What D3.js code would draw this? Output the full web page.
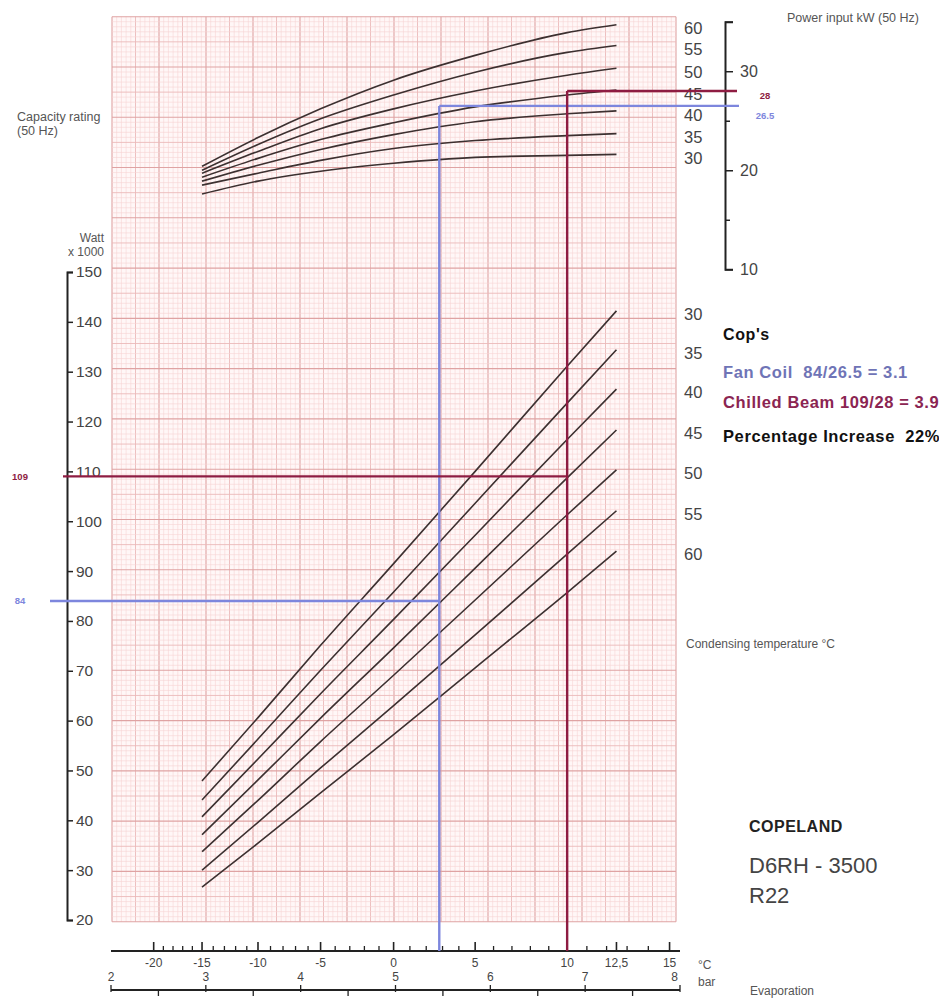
<!DOCTYPE html>
<html>
<head>
<meta charset="utf-8">
<script src="https://cdn.jsdelivr.net/npm/d3@7"></script>
<style>
	body { margin: 0; background: #fff; }
	svg { display: block; }
	text { font-family: "Liberation Sans", Arial, sans-serif; white-space: pre; }
</style>
</head>
<body>
<svg id="chart"></svg>
<script>

// condensing temperatures (one curve per value)
var condTemps = [30, 35, 40, 45, 50, 55, 60];

// evaporation temperatures where the curves were read
var evapPoints = [-15, -10, -5, 0, 5, 10, 12.5];

// capacity rating, Watt x 1000
var capacity30 = [47.9, 60.6, 75.1, 91.5, 110.0, 131.1, 142.2];
var capacity35 = [44.1, 56.3, 70.1, 85.8, 103.6, 123.7, 134.4];
var capacity40 = [40.7, 52.3, 65.4, 80.3, 97.2, 116.4, 126.5];
var capacity45 = [37.1, 48.1, 60.5, 74.6, 90.6, 108.7, 118.3];
var capacity50 = [33.7, 44.0, 55.8, 69.1, 84.2, 101.3, 110.3];
var capacity55 = [30.0, 39.6, 50.5, 63.0, 77.2, 93.4, 102.1];
var capacity60 = [26.6, 35.4, 45.5, 57.2, 70.6, 85.7, 94.0];

// power input kW
var power30 = [17.6, 18.9, 19.9, 20.7, 21.3, 21.5, 21.6];
var power35 = [18.5, 19.7, 21.0, 22.2, 23.0, 23.5, 23.7];
var power40 = [18.9, 20.5, 22.1, 23.6, 24.9, 25.7, 26.0];
var power45 = [19.3, 21.2, 23.1, 24.8, 26.4, 27.6, 28.1];
var power50 = [19.7, 21.9, 24.2, 26.2, 28.0, 29.6, 30.3];
var power55 = [20.0, 22.6, 25.2, 27.6, 29.9, 31.9, 32.6];
var power60 = [20.4, 23.3, 26.2, 29.1, 31.6, 33.9, 34.7];

var capacityData = [capacity30, capacity35, capacity40, capacity45, capacity50, capacity55, capacity60];
var powerData = [power30, power35, power40, power45, power50, power55, power60];

// evaporation axis: °C ticks and matching saturation pressure (bar)
var evapTicks = [-20, -15, -10, -5, 0, 5, 10, 12.5, 15];
var evapTickLabels = ["-20", "-15", "-10", "-5", "0", "5", "10", "12,5", "15"];
var evapBar = [2.45, 2.96, 3.55, 4.21, 4.98, 5.84, 6.81, 7.33, 7.89];
var barTicks = [2, 3, 4, 5, 6, 7, 8];

var capacityTicks = [20, 30, 40, 50, 60, 70, 80, 90, 100, 110, 120, 130, 140, 150];
var powerTicks = [10, 15, 20, 25, 30, 35];
var powerLabels = [10, 20, 30];

// the two marked operating points, as written on the chart
var markerNames = ["Fan Coil", "Chilled Beam"];
var markerEvap = [2.8, 10];
var markerCapacity = [84, 109];
var markerPower = [26.5, 28];
var markerCop = ["3.1", "3.9"];
var copIncrease = "22%";


const width = 939;
const height = 999;
const grid = {left: 112, right: 676, top: 16.7, bottom: 921.7};
const blue = "#7d86dd";
const red = "#8e1c42";
const ink = "#3c3030";
const grey = "#444";

var svg = d3.select("#chart")
	.attr("width", width)
	.attr("height", height);

svg.append("rect")
	.attr("width", width)
	.attr("height", height)
	.attr("fill", "#fff");

// scales
var barScale = d3.scaleLinear().domain([2, 8]).range([111, 680]);
var evapScale = d3.scaleLinear().domain(evapTicks).range(evapBar.map(barScale));
var capScale = d3.scaleLinear().domain([20, 150]).range([920, 272]);
var powerScale = d3.scaleLinear().domain([10, 35]).range([269.3, 21.7]);

// graph paper (mm grid)
var mmX = d3.scaleLinear().domain([0, 120]).range([grid.left, grid.right]);
var mmY = d3.scaleLinear().domain([0, 180]).range([grid.top, grid.bottom]);

svg.append("rect")
	.attr("x", grid.left)
	.attr("y", grid.top)
	.attr("width", grid.right - grid.left)
	.attr("height", grid.bottom - grid.top)
	.attr("fill", "#fff7f7");

function gridStroke(i) {
	if(i % 10 === 0) return "#dfa3a3";
	if(i % 5 === 0) return "#ebb9b9";
	return "#f6d4d4";
}
function gridWidth(i) {
	if(i % 10 === 0) return 1.1;
	if(i % 5 === 0) return 0.9;
	return 0.6;
}

var paper = svg.append("g").attr("class", "paper");
// minor first so the heavier lines sit on top
var order = function(a, b) { return gridWidth(a) - gridWidth(b); };

paper.selectAll(".vline")
	.data(d3.range(0, 121).sort(order))
	.enter().append("line")
		.attr("class", "vline")
		.attr("x1", d => mmX(d)).attr("x2", d => mmX(d))
		.attr("y1", grid.top).attr("y2", grid.bottom)
		.attr("stroke", d => gridStroke(d))
		.attr("stroke-width", d => gridWidth(d));

paper.selectAll(".hline")
	.data(d3.range(0, 181).sort(order))
	.enter().append("line")
		.attr("class", "hline")
		.attr("y1", d => mmY(d)).attr("y2", d => mmY(d))
		.attr("x1", grid.left).attr("x2", grid.right)
		.attr("stroke", d => gridStroke(d))
		.attr("stroke-width", d => gridWidth(d));


// curves
var capLine = d3.line()
	.x((d, i) => evapScale(evapPoints[i]))
	.y(d => capScale(d))
	.curve(d3.curveMonotoneX);

var powLine = d3.line()
	.x((d, i) => evapScale(evapPoints[i]))
	.y(d => powerScale(d))
	.curve(d3.curveMonotoneX);

svg.append("g").selectAll("path")
	.data(capacityData)
	.enter().append("path")
		.attr("d", capLine)
		.attr("fill", "none")
		.attr("stroke", ink)
		.attr("stroke-width", 1.6);

svg.append("g").selectAll("path")
	.data(powerData)
	.enter().append("path")
		.attr("d", powLine)
		.attr("fill", "none")
		.attr("stroke", ink)
		.attr("stroke-width", 1.6);

// condensing temperature labels at the curve ends
var last = evapPoints.length - 1;

svg.append("g").selectAll("text")
	.data(condTemps)
	.enter().append("text")
		.attr("x", 684)
		.attr("y", (d, i) => powerScale(powerData[i][last]) + 4)
		.attr("dy", "0.35em")
		.attr("font-size", 16.5)
		.attr("fill", grey)
		.text(d => d);

svg.append("g").selectAll("text")
	.data(condTemps)
	.enter().append("text")
		.attr("x", 684)
		.attr("y", (d, i) => capScale(capacityData[i][last]) + 3)
		.attr("dy", "0.35em")
		.attr("font-size", 16.5)
		.attr("fill", grey)
		.text(d => d);


// capacity axis (left)
var capAxis = svg.append("g")
	.attr("transform", "translate(67,0)")
	.call(d3.axisRight(capScale).tickValues(capacityTicks).tickSize(6).tickPadding(3));
capAxis.select(".domain").attr("stroke", "#222").attr("stroke-width", 2);
capAxis.selectAll(".tick line").attr("stroke", "#222").attr("stroke-width", 1.5);
capAxis.selectAll("text").attr("font-size", 15.5).attr("fill", grey).attr("font-family", null);

// power axis (right)
var powAxis = svg.append("g")
	.attr("transform", "translate(725,0)")
	.call(d3.axisRight(powerScale).tickValues(powerTicks).tickSize(8).tickPadding(7)
		.tickFormat(d => powerLabels.indexOf(d) >= 0 ? d : ""));
powAxis.select(".domain").attr("stroke", "#222").attr("stroke-width", 2);
powAxis.selectAll(".tick line")
	.attr("stroke", "#222").attr("stroke-width", 1.5)
	.attr("x2", d => (powerLabels.indexOf(d) >= 0 || d === 35) ? 8 : 5);
powAxis.selectAll("text").attr("font-size", 16).attr("fill", grey).attr("font-family", null);


// evaporation axis: °C
var cY = 951;
var cAxis = svg.append("g");
cAxis.append("line")
	.attr("x1", barScale(2)).attr("x2", barScale(8))
	.attr("y1", cY).attr("y2", cY)
	.attr("stroke", "#222").attr("stroke-width", 2);

var minorC = d3.range(-20, 16).filter(t => evapTicks.indexOf(t) < 0);
cAxis.selectAll(".minor")
	.data(minorC)
	.enter().append("line")
		.attr("class", "minor")
		.attr("x1", d => evapScale(d)).attr("x2", d => evapScale(d))
		.attr("y1", cY).attr("y2", cY - 5)
		.attr("stroke", "#222").attr("stroke-width", 1.3);
cAxis.selectAll(".major")
	.data(evapTicks)
	.enter().append("line")
		.attr("class", "major")
		.attr("x1", d => evapScale(d)).attr("x2", d => evapScale(d))
		.attr("y1", cY).attr("y2", cY - 9)
		.attr("stroke", "#222").attr("stroke-width", 1.6);
cAxis.selectAll("text")
	.data(evapTicks)
	.enter().append("text")
		.attr("x", d => evapScale(d))
		.attr("y", cY + 16)
		.attr("text-anchor", "middle")
		.attr("font-size", 12)
		.attr("fill", grey)
		.text((d, i) => evapTickLabels[i]);

// evaporation axis: bar
var bY = 990;
var bAxis = svg.append("g");
bAxis.append("line")
	.attr("x1", barScale(2)).attr("x2", barScale(8))
	.attr("y1", bY).attr("y2", bY)
	.attr("stroke", "#222").attr("stroke-width", 2);
bAxis.selectAll(".btick")
	.data(d3.range(2, 8.01, 0.5))
	.enter().append("line")
		.attr("class", "btick")
		.attr("x1", d => barScale(d)).attr("x2", d => barScale(d))
		.attr("y1", d => d % 1 === 0 ? bY - 5 : bY)
		.attr("y2", d => d % 1 === 0 ? bY + 2 : bY + 6)
		.attr("stroke", "#222").attr("stroke-width", 1.3);
bAxis.selectAll("text")
	.data(barTicks)
	.enter().append("text")
		.attr("x", d => barScale(d))
		.attr("y", bY - 9)
		.attr("text-anchor", (d, i) => i === barTicks.length - 1 ? "end" : "middle")
		.attr("dx", (d, i) => i === barTicks.length - 1 ? -2 : 0)
		.attr("font-size", 12)
		.attr("fill", grey)
		.text(d => d);


// operating point markers
var markerColors = [blue, red];
var markerLeft = [50, 63];
var markerRight = [739, 737];

markerEvap.forEach(function(t, i) {
	var x = evapScale(t);
	var g = svg.append("g").attr("stroke", markerColors[i]).attr("stroke-width", 2.4);
	g.append("line")
		.attr("x1", x).attr("x2", x)
		.attr("y1", powerScale(markerPower[i])).attr("y2", cY);
	g.append("line")
		.attr("x1", markerLeft[i]).attr("x2", x)
		.attr("y1", capScale(markerCapacity[i])).attr("y2", capScale(markerCapacity[i]));
	g.append("line")
		.attr("x1", x).attr("x2", markerRight[i])
		.attr("y1", powerScale(markerPower[i])).attr("y2", powerScale(markerPower[i]));

	svg.append("text")
		.attr("x", 20)
		.attr("y", capScale(markerCapacity[i]))
		.attr("dy", "0.35em")
		.attr("text-anchor", "middle")
		.attr("font-size", 9.5)
		.attr("font-weight", "bold")
		.attr("fill", markerColors[i])
		.text(markerCapacity[i]);

	svg.append("text")
		.attr("x", 765)
		.attr("y", powerScale(markerPower[i]) + (i === 0 ? 10 : 5))
		.attr("dy", "0.35em")
		.attr("text-anchor", "middle")
		.attr("font-size", 9.5)
		.attr("font-weight", "bold")
		.attr("fill", markerColors[i])
		.text(markerPower[i]);
});


// titles and notes
function note(x, y, txt, size, opts) {
	opts = opts || {};
	return svg.append("text")
		.attr("x", x).attr("y", y)
		.attr("font-size", size)
		.attr("font-weight", opts.bold ? "bold" : null)
		.attr("text-anchor", opts.anchor || "start")
		.attr("letter-spacing", opts.spacing || null)
		.attr("fill", opts.color || "#555")
		.text(txt);
}

note(17, 121, "Capacity rating", 12.5);
note(17, 135, "(50 Hz)", 12.5);
note(104, 242, "Watt", 12, {anchor: "end"});
note(104, 256, "x 1000", 12, {anchor: "end"});
note(787, 22, "Power input kW (50 Hz)", 12.5);
note(686, 648, "Condensing temperature \u00b0C", 12);
note(698, 969, "\u00b0C", 12);
note(698, 986, "bar", 12);
note(750, 995, "Evaporation", 12);

note(723, 340, "Cop's", 16, {bold: true, color: "#111", spacing: 0.6});
note(723, 378, markerNames[0] + "  " + markerCapacity[0] + "/" + markerPower[0] + " = " + markerCop[0], 16.5, {bold: true, color: "#6f74b6", spacing: 0.6});
note(723, 408, markerNames[1] + " " + markerCapacity[1] + "/" + markerPower[1] + " = " + markerCop[1], 16.5, {bold: true, color: "#8b2552", spacing: 0.6});
note(723, 442, "Percentage Increase  " + copIncrease, 16.5, {bold: true, color: "#111", spacing: 0.6});

note(749, 832, "COPELAND", 16, {bold: true, color: "#222", spacing: 0.5});
note(749, 873, "D6RH - 3500", 22, {color: grey});
note(749, 903, "R22", 22, {color: grey});

</script>
</body>
</html>
